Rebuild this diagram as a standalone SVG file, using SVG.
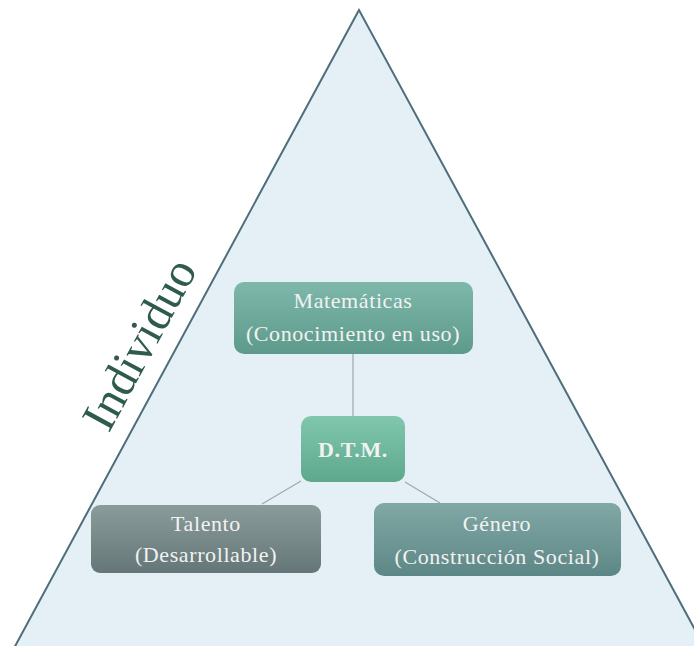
<svg xmlns="http://www.w3.org/2000/svg" width="694" height="646" viewBox="0 0 694 646">
<defs>
<linearGradient id="gMat" x1="0" y1="0" x2="0" y2="1"><stop offset="0" stop-color="#7db8aa"/><stop offset="1" stop-color="#5e9a8b"/></linearGradient>
<linearGradient id="gDtm" x1="0" y1="0" x2="0" y2="1"><stop offset="0" stop-color="#80c7ad"/><stop offset="1" stop-color="#5ea88d"/></linearGradient>
<linearGradient id="gTal" x1="0" y1="0" x2="0" y2="1"><stop offset="0" stop-color="#8a9c9a"/><stop offset="1" stop-color="#647677"/></linearGradient>
<linearGradient id="gGen" x1="0" y1="0" x2="0" y2="1"><stop offset="0" stop-color="#80a8a5"/><stop offset="1" stop-color="#5d8786"/></linearGradient>
</defs>
<style>
.lbl{font-family:"Liberation Serif",serif;font-size:22px;letter-spacing:0.6px;fill:#f2f2f2;text-anchor:middle}
.con{stroke:#9aaab0;stroke-width:1.2;fill:none}
</style>
<rect width="694" height="646" fill="#ffffff"/>
<polygon points="359,10 13,650 706,650" fill="#e4f0f6" stroke="#4e6e7c" stroke-width="2"/>
<text x="141" y="359" transform="rotate(-61.5 141 345)" font-family="'Liberation Serif',serif" font-size="48" fill="#2f5c4a" text-anchor="middle">Individuo</text>
<g id="connectors">
<line class="con" x1="353" y1="354" x2="353" y2="416"/>
<line class="con" x1="301" y1="481" x2="262" y2="504"/>
<line class="con" x1="405" y1="482" x2="440" y2="503"/>
</g>
<g id="matematicas">
<rect x="234" y="282" width="239" height="72" rx="10" fill="url(#gMat)"/>
<text class="lbl" x="353" y="308">Matemáticas</text>
<text class="lbl" x="353" y="341">(Conocimiento en uso)</text>
</g>
<g id="dtm">
<rect x="301" y="416" width="104" height="66" rx="10" fill="url(#gDtm)"/>
<text class="lbl" x="353" y="457" font-weight="bold" font-size="23">D.T.M.</text>
</g>
<g id="talento">
<rect x="91" y="505" width="230" height="68" rx="9" fill="url(#gTal)"/>
<text class="lbl" x="206" y="531">Talento</text>
<text class="lbl" x="206" y="562">(Desarrollable)</text>
</g>
<g id="genero">
<rect x="374" y="503" width="247" height="73" rx="10" fill="url(#gGen)"/>
<text class="lbl" x="497" y="531">Género</text>
<text class="lbl" x="497" y="564">(Construcción Social)</text>
</g>
</svg>
